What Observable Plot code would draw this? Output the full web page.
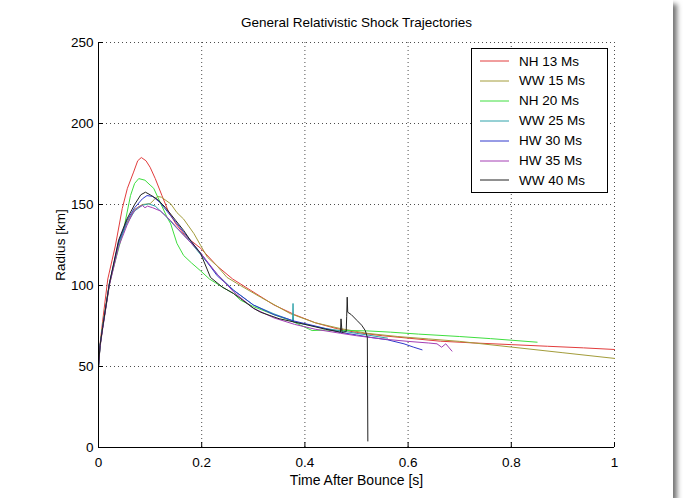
<!DOCTYPE html>
<html>
<head>
<meta charset="utf-8">
<script src="https://cdn.jsdelivr.net/npm/d3@7"></script>
<script src="https://cdn.jsdelivr.net/npm/@observablehq/plot@0.6"></script>
<style>
  html, body { margin: 0; padding: 0; background: #fff; }
  #wrap { position: relative; width: 673px; height: 498px; background: #fff;
          box-shadow: 4px 4px 5px rgba(0,0,0,0.55); font-family: "Liberation Sans", Arial, sans-serif; }
  #legend { position: absolute; left: 471px; top: 48px; width: 135px; height: 143px;
            border: 1px solid #000; background: #fff; font-size: 13.5px; color: #000; }
  #legend .row { position: absolute; left: 0; width: 135px; height: 20px; display: flex; align-items: center; }
  #legend svg { flex: 0 0 auto; margin-left: 8px; margin-right: 10px; }
  #ylab { position: absolute; left: 60px; top: 245px; transform: translate(-50%, -50%) rotate(-90deg);
          font-size: 13.5px; white-space: nowrap; color: #000; }
</style>
</head>
<body>
<div id="wrap"><div id="legend"></div><div id="ylab"></div></div>
<script>
const seriesNames = ["NH 13 Ms", "WW 15 Ms", "NH 20 Ms", "WW 25 Ms", "HW 30 Ms", "HW 35 Ms", "WW 40 Ms"];
const seriesColors = ["#e23c3c", "#a39c3a", "#3ede3e", "#2fa2aa", "#3038cc", "#a43eb4", "#222222"];

const tNH13 = [0, 0.003, 0.008, 0.018, 0.033, 0.046, 0.056, 0.068, 0.076, 0.083, 0.092, 0.100, 0.110, 0.123, 0.135, 0.150, 0.170, 0.198, 0.230, 0.260, 0.295, 0.340, 0.380, 0.420, 0.460, 0.500, 0.550, 0.600, 0.663, 0.730, 0.800, 0.870, 0.940, 1.0];
const rNH13 = [50, 64, 78, 104, 125, 147.5, 160, 170, 177, 179, 177, 173, 166, 155.5, 146, 138, 130, 123, 112, 104, 97, 88, 82, 77, 73.5, 71, 69, 67.5, 65.6, 64.5, 63.5, 62.5, 61.5, 60.5];

const tWW15 = [0, 0.003, 0.008, 0.021, 0.039, 0.055, 0.070, 0.085, 0.100, 0.108, 0.114, 0.122, 0.140, 0.152, 0.165, 0.185, 0.198, 0.211, 0.230, 0.249, 0.275, 0.314, 0.372, 0.420, 0.469, 0.520, 0.580, 0.640, 0.700, 0.800, 0.900, 1.0];
const rWW15 = [50, 62, 74, 100, 126, 139, 147, 150, 150.5, 153, 155, 154.5, 150.4, 145, 141, 132, 124.7, 117.5, 112, 105, 100, 92.8, 82.6, 77, 73.4, 70.5, 68.5, 67, 65.5, 62, 58.5, 55];

const tNH20 = [0, 0.003, 0.008, 0.021, 0.035, 0.049, 0.062, 0.070, 0.078, 0.090, 0.100, 0.107, 0.120, 0.133, 0.140, 0.152, 0.165, 0.180, 0.198, 0.215, 0.240, 0.262, 0.275, 0.300, 0.340, 0.372, 0.414, 0.440, 0.469, 0.520, 0.566, 0.620, 0.700, 0.760, 0.850];
const rNH20 = [50, 63, 75, 101, 118, 135, 155.5, 163, 166, 165, 162, 160, 151, 142, 138, 126, 118.5, 114, 109, 104, 99, 95, 91, 87, 82, 78.4, 72.2, 72.5, 72.3, 72, 71.2, 70, 68.5, 67.2, 65];

const tWW25 = [0, 0.003, 0.008, 0.021, 0.039, 0.055, 0.070, 0.085, 0.097, 0.110, 0.130, 0.150, 0.175, 0.198, 0.230, 0.262, 0.300, 0.340, 0.370, 0.376, 0.377, 0.378, 0.400, 0.440, 0.469, 0.520, 0.560];
const rWW25 = [50, 63, 74, 101, 126, 138, 146, 149.5, 150.4, 149, 143, 136, 128, 119, 107, 97, 88, 82.5, 79, 78, 88.9, 77.5, 76, 73.5, 72, 69.5, 67.5];

const tHW30 = [0, 0.003, 0.008, 0.021, 0.039, 0.055, 0.070, 0.085, 0.094, 0.105, 0.120, 0.140, 0.165, 0.198, 0.230, 0.262, 0.275, 0.300, 0.340, 0.380, 0.420, 0.469, 0.500, 0.527, 0.560, 0.592, 0.610, 0.627];
const rHW30 = [50, 63, 74, 101, 127, 140, 148, 153.5, 155.5, 155, 151, 143, 133, 120, 106, 97, 94, 88, 82, 78, 75, 71, 69.5, 68, 66.5, 64, 62, 60.3];

const tHW35 = [0, 0.003, 0.008, 0.021, 0.039, 0.055, 0.065, 0.072, 0.078, 0.085, 0.090, 0.095, 0.105, 0.120, 0.140, 0.165, 0.198, 0.230, 0.262, 0.300, 0.340, 0.380, 0.420, 0.469, 0.500, 0.550, 0.600, 0.640, 0.656, 0.665, 0.673, 0.685];
const rHW35 = [50, 62, 73, 100, 124, 137, 144, 147, 148.5, 149.4, 148, 149, 148, 146, 140, 131, 120, 107, 96, 86, 80, 76, 73, 70.5, 69, 67, 65.5, 64.5, 64, 61.9, 64, 59.5];

const tWW40 = [0, 0.003, 0.008, 0.021, 0.039, 0.055, 0.070, 0.082, 0.091, 0.100, 0.115, 0.130, 0.150, 0.165, 0.180, 0.198, 0.217, 0.240, 0.262, 0.275, 0.300, 0.314, 0.350, 0.400, 0.440, 0.469, 0.470, 0.472, 0.480, 0.481, 0.482, 0.483, 0.490, 0.501, 0.510, 0.517, 0.521, 0.522];
const rWW40 = [50, 63, 74, 101, 128, 141, 150, 156, 157.6, 156, 153, 148, 140, 134, 127, 119.7, 105, 99, 95, 92, 86, 83.5, 79.5, 76, 73, 71.2, 79.4, 71, 71.5, 81, 92.8, 83.5, 82, 78.4, 75.5, 72.2, 68, 4];

const xTicks = [0, 0.2, 0.4, 0.6, 0.8, 1];
const yTicks = [0, 50, 100, 150, 200, 250];
const titleText = "General Relativistic Shock Trajectories";
const xLabel = "Time After Bounce [s]";
const yLabel = "Radius [km]";

const seriesT = [tNH13, tWW15, tNH20, tWW25, tHW30, tHW35, tWW40];
const seriesR = [rNH13, rWW15, rNH20, rWW25, rHW30, rHW35, rWW40];
const rows = [];
seriesNames.forEach((name, i) => {
  seriesT[i].forEach((t, j) => rows.push({series: name, t, r: seriesR[i][j]}));
});

const W = 673, H = 498, mL = 98, mR = 59, mT = 42, mB = 51;
const plotW = W - mL - mR, plotH = H - mT - mB;

const chart = Plot.plot({
  width: W, height: H,
  marginLeft: mL, marginRight: mR, marginTop: mT, marginBottom: mB,
  style: {background: "transparent", fontFamily: "Liberation Sans, Arial, sans-serif", fontSize: "13.5px", color: "#000"},
  x: {domain: [0, 1]},
  y: {domain: [0, 250]},
  color: {domain: seriesNames, range: seriesColors},
  marks: [
    Plot.gridX(xTicks, {stroke: "#000", strokeOpacity: 0.7, strokeDasharray: "1,3"}),
    Plot.gridY(yTicks, {stroke: "#000", strokeOpacity: 0.7, strokeDasharray: "1,3"}),
    Plot.line(rows, {x: "t", y: "r", z: "series", stroke: "series", strokeWidth: 1}),
    Plot.ruleX([0], {stroke: "#000"}),
    Plot.ruleY([0], {stroke: "#000"}),
    Plot.tickY(yTicks, {y: d => d, stroke: "#000", insetRight: plotW - 5}),
    Plot.tickX(xTicks, {x: d => d, stroke: "#000", insetTop: plotH - 5}),
    Plot.axisX(xTicks, {tickSize: 0, tickPadding: 10, label: null, tickFormat: d => String(d), fontSize: 13.5}),
    Plot.axisY(yTicks, {tickSize: 0, tickPadding: 5, label: null, tickFormat: d => String(d), fontSize: 13.5}),
    Plot.text([titleText], {frameAnchor: "top", dy: -25, fontSize: 13.5}),
    Plot.text([xLabel], {frameAnchor: "bottom", dy: 37, fontSize: 14})
  ]
});
document.getElementById("wrap").prepend(chart);
document.getElementById("ylab").textContent = yLabel;

const legend = document.getElementById("legend");
const NS = "http://www.w3.org/2000/svg";
seriesNames.forEach((name, i) => {
  const row = document.createElement("div");
  row.className = "row";
  row.style.top = (2 + i * 19.9) + "px";
  const sw = document.createElementNS(NS, "svg");
  sw.setAttribute("width", "29");
  sw.setAttribute("height", "4");
  const ln = document.createElementNS(NS, "line");
  ln.setAttribute("x1", "0"); ln.setAttribute("x2", "29");
  ln.setAttribute("y1", "2"); ln.setAttribute("y2", "2");
  ln.setAttribute("stroke", seriesColors[i]);
  ln.setAttribute("stroke-width", "1");
  sw.append(ln);
  const tx = document.createElement("span");
  tx.textContent = name;
  row.append(sw, tx);
  legend.append(row);
});
</script>
</body>
</html>
